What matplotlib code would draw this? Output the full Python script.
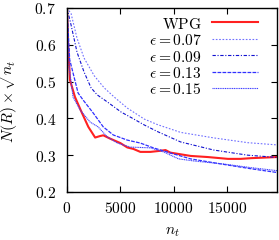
import matplotlib
matplotlib.use("Agg")
import matplotlib.pyplot as plt

plt.rcParams['mathtext.fontset'] = 'cm'
plt.rcParams['font.family'] = 'serif'
plt.rcParams['font.serif'] = ['DejaVu Serif']

# WPG
n_wpg = [0, 100, 280, 750, 1400, 2000, 2640, 3100, 3400, 4050, 5000, 5660, 6230,
         6880, 7830, 8770, 9240, 9700, 11600, 13200, 15100, 16300, 17300, 18900, 19700]
v_wpg = [0.70, 0.605, 0.504, 0.458, 0.415, 0.377, 0.348, 0.352, 0.354, 0.345, 0.333, 0.321, 0.317,
         0.309, 0.309, 0.312, 0.314, 0.307, 0.298, 0.295, 0.290, 0.290, 0.292, 0.294, 0.295]

# eps = 0.07
n_07 = [0, 380, 940, 1600, 2550, 3490, 4430, 5660, 7260, 8500, 10660, 13770, 16970, 19700]
v_07 = [0.70, 0.685, 0.618, 0.564, 0.516, 0.483, 0.458, 0.428, 0.398, 0.383, 0.362, 0.347, 0.334, 0.328]

# eps = 0.09
n_09 = [0, 380, 940, 1600, 2260, 2830, 3770, 5090, 6040, 7260, 8500, 10660, 13770, 16970, 19700]
v_09 = [0.70, 0.654, 0.580, 0.526, 0.483, 0.464, 0.445, 0.417, 0.402, 0.382, 0.364, 0.336, 0.314, 0.300, 0.294]

# eps = 0.13
n_13 = [0, 250, 1040, 1510, 2450, 3400, 4340, 5660, 6880, 8100, 9700, 11600, 14700, 17300, 19700]
v_13 = [0.70, 0.560, 0.469, 0.450, 0.415, 0.377, 0.355, 0.341, 0.333, 0.320, 0.306, 0.290, 0.275, 0.263, 0.253]

# eps = 0.15
n_15 = [0, 200, 570, 1230, 2170, 2920, 3770, 4720, 5940, 7830, 9050, 10470, 12000, 14700, 17300, 19700]
v_15 = [0.70, 0.540, 0.458, 0.423, 0.390, 0.377, 0.350, 0.333, 0.322, 0.320, 0.309, 0.290, 0.284, 0.276, 0.266, 0.258]

fs = 11.2
fig = plt.figure(figsize=(2.79, 2.40), dpi=100)
ax = fig.add_axes([67 / 279, 48 / 240, 210 / 279, 184 / 240])

ax.plot(n_wpg, v_wpg, color='#ff2020', lw=1.5, label=r'$\mathrm{WPG}$')
ax.plot(n_07, v_07, color='#7070ff', lw=0.8, ls=(0, (1.5, 1.5)), label=r'$\epsilon = 0.07$')
ax.plot(n_09, v_09, color='#1010d0', lw=0.8, ls=(0, (3, 1.5, 1, 1.5)), label=r'$\epsilon = 0.09$')
ax.plot(n_13, v_13, color='#3030ff', lw=0.9, ls=(0, (3, 1)), label=r'$\epsilon = 0.13$')
ax.plot(n_15, v_15, color='#4040ff', lw=0.8, ls=(0, (1, 0.6)), label=r'$\epsilon = 0.15$')

ax.set_xlim(0, 19700)
ax.set_ylim(0.2, 0.7)
ax.set_xticks([0, 5000, 10000, 15000])
ax.set_xticklabels(['$0$', '$5000$', '$10000$', '$15000$'])
ax.set_yticks([0.2, 0.3, 0.4, 0.5, 0.6, 0.7])
ax.set_yticklabels(['$0.2$', '$0.3$', '$0.4$', '$0.5$', '$0.6$', '$0.7$'])
ax.tick_params(direction='in', top=True, right=True, labelsize=fs, length=4, width=0.8)
ax.tick_params(axis='x', pad=6)
ax.tick_params(axis='y', pad=8)
for s in ax.spines.values():
    s.set_linewidth(1.0)
ax.set_xlabel('$n_t$', fontsize=fs)
ax.set_ylabel(r'$N(R) \times \sqrt{n_t}$', fontsize=fs)
ax.xaxis.set_label_coords(0.5, -0.165)
ax.yaxis.set_label_coords(-0.225, 0.5)

ax.legend(loc='upper right', frameon=False, markerfirst=False, fontsize=fs,
          handlelength=2.95, handleheight=1.07, labelspacing=-0.04, handletextpad=0.64,
          borderaxespad=0.1, bbox_to_anchor=(0.945, 1.0))

fig.savefig('out.png', dpi=100)
